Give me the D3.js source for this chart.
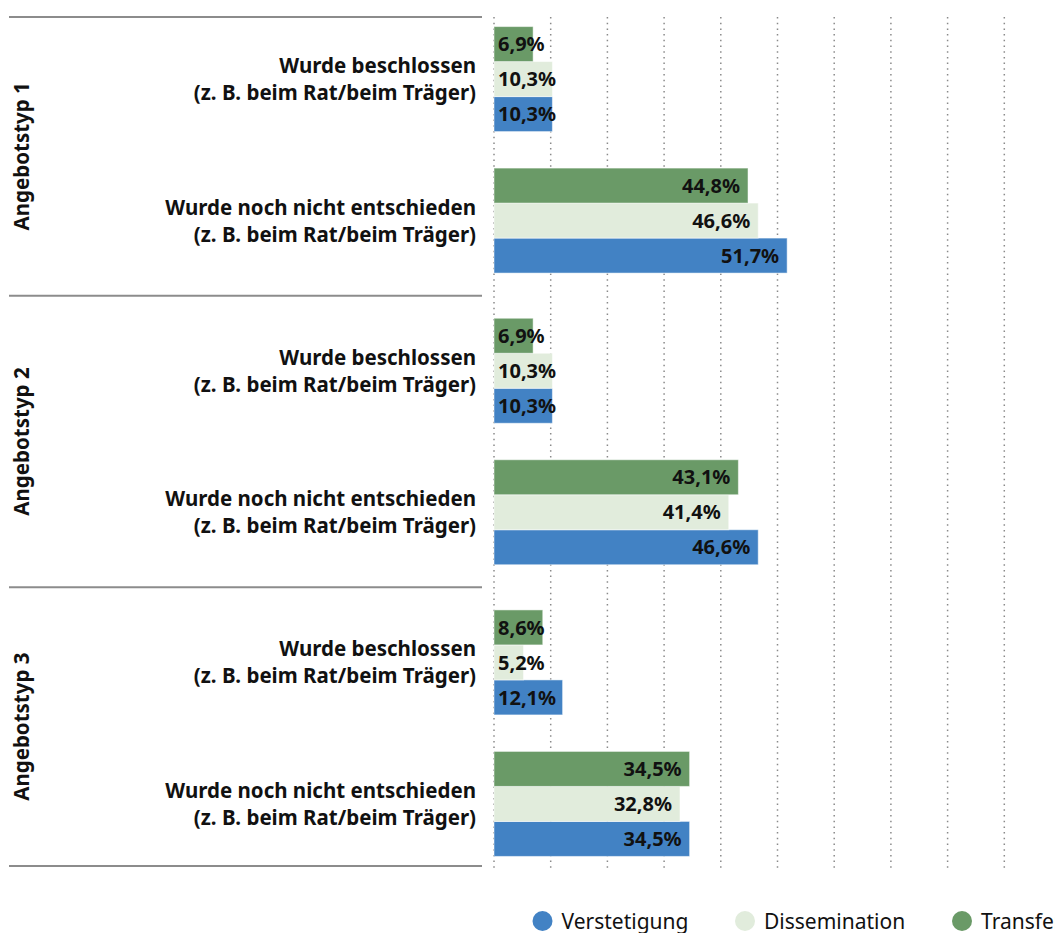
<!DOCTYPE html>
<html>
<head>
<meta charset="utf-8">
<script src="https://cdn.jsdelivr.net/npm/d3@7"></script>
<style>
  body { margin: 0; background: #fff; }
  svg { font-family: "Noto Sans", "Open Sans", sans-serif; }
</style>
</head>
<body>
<svg id="chart"></svg>
<script>
// Data
const groups = ["Angebotstyp 1", "Angebotstyp 2", "Angebotstyp 3"];
const subcats = ["beschlossen", "nicht entschieden"];
const subcatLines = {
  "beschlossen": ["Wurde beschlossen", "(z. B. beim Rat/beim Träger)"],
  "nicht entschieden": ["Wurde noch nicht entschieden", "(z. B. beim Rat/beim Träger)"]
};
const seriesNames = ["Verstetigung", "Dissemination", "Transfer"];
// one value per group x subcategory, in order
const verstetigung = [10.3, 51.7, 10.3, 46.6, 12.1, 34.5];
const dissemination = [10.3, 46.6, 10.3, 41.4, 5.2, 32.8];
const transfer = [6.9, 44.8, 6.9, 43.1, 8.6, 34.5];
const xTicks = [0, 10, 20, 30, 40, 50, 60, 70, 80, 90, 100];

const colors = { "Verstetigung": "#4282c4", "Dissemination": "#e1ecdc", "Transfer": "#6a9a67" };
const seriesValues = { "Verstetigung": verstetigung, "Dissemination": dissemination, "Transfer": transfer };

const width = 1055, height = 933;
const svg = d3.select("#chart").attr("width", width).attr("height", height);

// Scales
const xScale = d3.scaleLinear().domain([0, 100]).range([494, 1061]);
const groupScale = d3.scaleBand().domain(groups).range([4, 879]);
const gbw = groupScale.bandwidth();
const subScale = d3.scaleBand().domain(subcats).range([gbw / 2 - 141.5, gbw / 2 + 141.5]);
// Transfer on top, Verstetigung at bottom
const barScale = d3.scaleBand().domain(["Transfer", "Dissemination", "Verstetigung"])
  .range([subScale.bandwidth() / 2 - 52.5, subScale.bandwidth() / 2 + 52.5]);

const plotTop = groupScale.range()[0] + 13, plotBottom = groupScale.range()[1] - 13;

// Gridlines (dotted)
svg.append("g").selectAll("line")
  .data(xTicks)
  .join("line")
  .attr("x1", d => xScale(d)).attr("x2", d => xScale(d))
  .attr("y1", plotTop).attr("y2", plotBottom + 6)
  .attr("stroke", "#8a8a8a")
  .attr("stroke-width", 1.5)
  .attr("stroke-dasharray", "1.5,4.2");

// Separator lines
const sepYs = [plotTop, groupScale(groups[1]), groupScale(groups[2]), plotBottom];
svg.append("g").selectAll("line")
  .data(sepYs)
  .join("line")
  .attr("x1", 9).attr("x2", 482)
  .attr("y1", d => d).attr("y2", d => d)
  .attr("stroke", "#8c8c8c")
  .attr("stroke-width", 2);

// Flatten rows
const rows = [];
groups.forEach((g, gi) => {
  subcats.forEach((s, si) => {
    rows.push({ group: g, sub: s, idx: gi * subcats.length + si });
  });
});

// Group labels (rotated)
svg.append("g").selectAll("text")
  .data(groups)
  .join("text")
  .attr("transform", d => `translate(29,${(Math.max(groupScale(d), plotTop) + Math.min(groupScale(d) + gbw, plotBottom)) / 2}) rotate(-90)`)
  .attr("text-anchor", "middle")
  .attr("font-size", 20.5)
  .attr("font-weight", "bold")
  .attr("fill", "#111")
  .text(d => d);

// Sub category labels
const subLabels = svg.append("g").selectAll("text")
  .data(rows)
  .join("text")
  .attr("text-anchor", "end")
  .attr("font-size", 20.5)
  .attr("font-weight", "bold")
  .attr("fill", "#111")
  .attr("transform", d => `translate(476,${groupScale(d.group) + subScale(d.sub) + subScale.bandwidth() / 2})`);
subLabels.selectAll("tspan")
  .data(d => subcatLines[d.sub])
  .join("tspan")
  .attr("x", 0)
  .attr("y", (d, i) => i === 0 ? -6 : 21)
  .text(d => d);

// Bars
const barData = [];
rows.forEach(r => {
  seriesNames.forEach(s => {
    barData.push({ row: r, series: s, value: seriesValues[s][r.idx] });
  });
});
const barY = d => groupScale(d.row.group) + subScale(d.row.sub) + barScale(d.series);

svg.append("g").selectAll("rect")
  .data(barData)
  .join("rect")
  .attr("x", xScale(0))
  .attr("y", barY)
  .attr("width", d => xScale(d.value) - xScale(0))
  .attr("height", barScale.bandwidth())
  .attr("fill", d => colors[d.series])
  .attr("stroke", "rgba(255,255,255,0.5)")
  .attr("stroke-width", 1);

// Value labels
const fmt = v => v.toFixed(1).replace(".", ",") + "%";
const labels = svg.append("g").selectAll("text")
  .data(barData)
  .join("text")
  .attr("y", d => barY(d) + barScale.bandwidth() / 2)
  .attr("dy", "0.36em")
  .attr("font-size", 20)
  .attr("font-weight", "bold")
  .attr("fill", "#111")
  .text(d => fmt(d.value));
labels.each(function(d) {
  const w = this.getComputedTextLength();
  const bw = xScale(d.value) - xScale(0);
  const t = d3.select(this);
  if (w + 12 > bw) {
    t.attr("x", xScale(0) + 4).attr("text-anchor", "start");
  } else {
    t.attr("x", xScale(d.value) - 8).attr("text-anchor", "end");
  }
});

// Legend
const legendX = [542.5, 745, 962];
const legend = svg.append("g").selectAll("g")
  .data(seriesNames)
  .join("g")
  .attr("transform", (d, i) => `translate(${legendX[i]},921)`);
legend.append("circle")
  .attr("r", 10)
  .attr("fill", d => colors[d]);
legend.append("text")
  .attr("x", 19)
  .attr("dy", "0.36em")
  .attr("font-size", 21)
  .attr("fill", "#111")
  .text(d => d);
</script>
</body>
</html>
